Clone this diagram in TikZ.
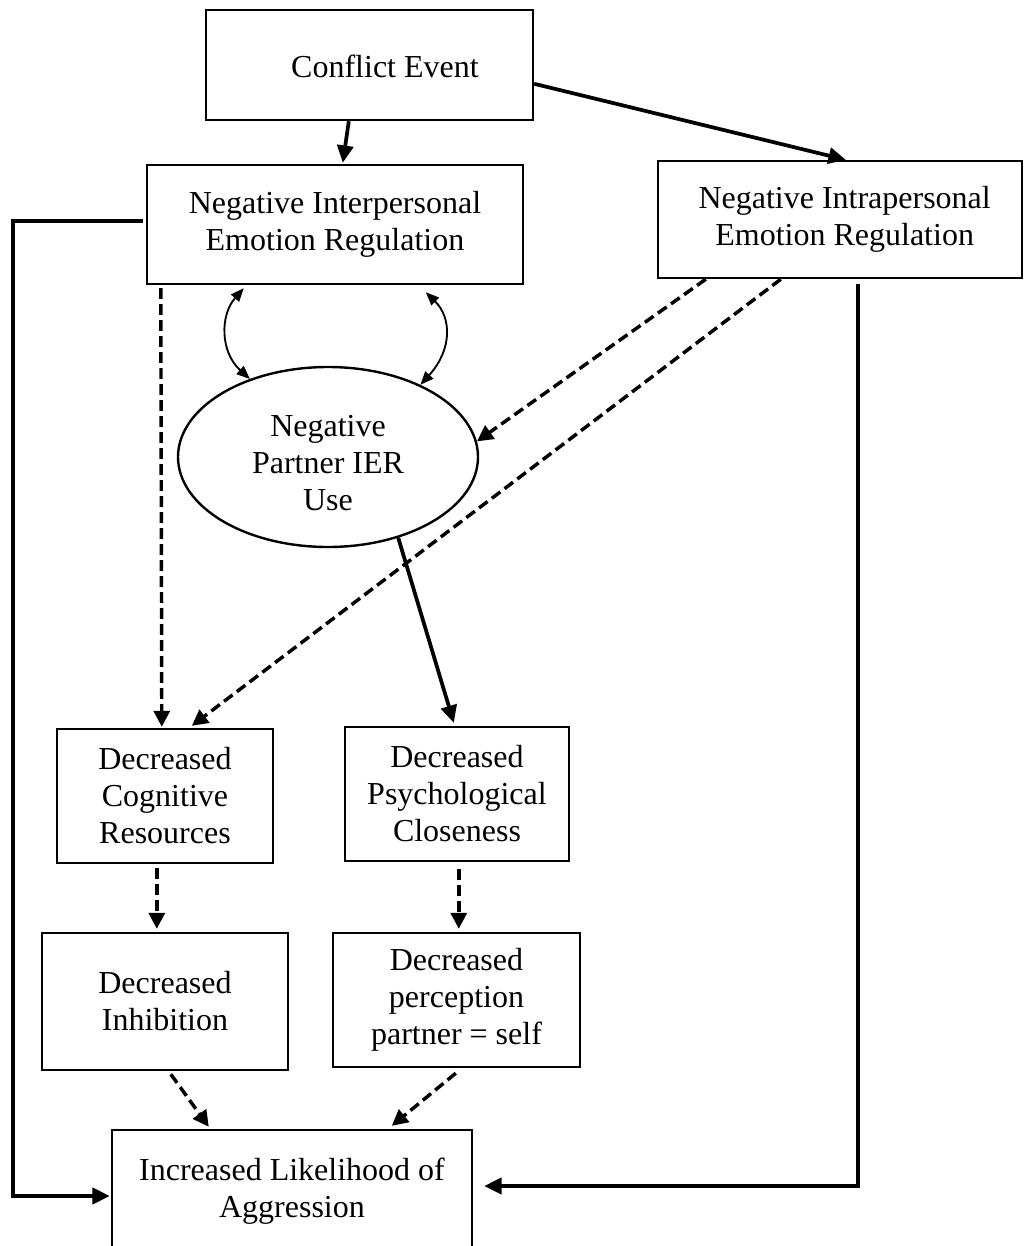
\documentclass[tikz,border=0pt]{standalone}
\usepackage{fontspec}
\setmainfont{Liberation Serif}
\usetikzlibrary{arrows.meta,shapes.geometric,calc}

\begin{document}
\begin{tikzpicture}[x=0.75pt,y=-0.75pt,
  every node/.style={font=\fontsize{24pt}{27.75pt}\selectfont},
  box/.style={draw,line width=1.8pt,rectangle,align=center,inner sep=0pt},
  oval/.style={draw,line width=1.8pt,ellipse,align=center,inner sep=0pt},
  solidarrow/.style={line width=2.8pt,-{Triangle[length=13pt,width=12pt]}},
  dasharrow/.style={line width=2.6pt,dash pattern=on 8pt off 4pt,-{Triangle[length=12pt,width=12pt]}},
  twoway/.style={line width=1.4pt,{Triangle[length=10pt,width=8pt]}-{Triangle[length=10pt,width=8pt]}}
]
\useasboundingbox (0,0) rectangle (1025,1246);

% boxes
\node[box,minimum width=245.25pt,minimum height=82.5pt] (conflict) at (369.5,65) {};
\node (conflictText) at (385,66) {Conflict Event};
\node[box,minimum width=282pt,minimum height=89.25pt] (ni) at (335,224.5)
  {Negative Interpersonal\\Emotion Regulation};
\node[box,minimum width=273pt,minimum height=87.75pt] (nr) at (840,219.5)
  {\hspace*{7pt}Negative Intrapersonal\\\hspace*{7pt}Emotion Regulation};
\node[oval,minimum width=225pt,minimum height=135pt] (partner) at (328,457) {};
\node (partnerText) at (328,463) [align=center] {Negative\\Partner IER\\Use};
\node[box,minimum width=162pt,minimum height=100.5pt] (cog) at (165,796)
  {Decreased\\Cognitive\\Resources};
\node[box,minimum width=168pt,minimum height=100.5pt] (psy) at (457,794)
  {Decreased\\Psychological\\Closeness};
\node[box,minimum width=184.5pt,minimum height=102.75pt] (inh) at (165,1001.5)
  {Decreased\\Inhibition};
\node[box,minimum width=185.25pt,minimum height=100.5pt] (per) at (456.5,1000)
  {Decreased\\perception\\partner = self};
\node[box,minimum width=270pt,minimum height=91.5pt] (inc) at (292,1191)
  {Increased Likelihood of\\Aggression};

% solid connectors
\draw[solidarrow] ($(conflict.south west)+(144,0)$) -- ($(ni.north west)+(197,-1)$);
\draw[solidarrow] ($(conflict.north east)+(0,75)$) -- ($(nr.north west)+(189,0)$);
\draw[solidarrow] ($(ni.north west)+(-3,57)$) -- ++(-130,0) |- ($(inc.west)+(-1,5)$);
\draw[solidarrow] ($(nr.south west)+(201,5)$) |- ($(inc.east)+(11,-5)$);
\draw[solidarrow] (partner.-49) -- ($(psy.north west)+(110,-3)$);

% two-way links between the interpersonal box and the partner oval
\draw[twoway] ($(ni.south west)+(98,3)$) .. controls (220,315) and (220,352) .. (partner.135);
\draw[twoway] ($(ni.south west)+(280,7)$) .. controls (452,318) and (452,350) .. (partner.38);

% dashed connectors
\draw[dasharrow] ($(ni.south west)+(15,3)$) -- ($(cog.north west)+(106,-1)$);
\draw[dasharrow] ($(nr.south west)+(49,0)$) -- (partner.6);
\draw[dasharrow] ($(nr.south west)+(124,0)$) -- ($(cog.north west)+(136,-2)$);
\draw[dasharrow] ($(cog.south west)+(101,4)$) -- ($(inh.north west)+(116,-3)$);
\draw[dasharrow] ($(psy.south west)+(115,7)$) -- ($(per.north west)+(127,-3)$);
\draw[dasharrow] ($(inh.south west)+(130,3)$) -- ($(inc.north west)+(98,-2)$);
\draw[dasharrow] ($(per.south west)+(124,5)$) -- ($(inc.north west)+(281,-3)$);
\end{tikzpicture}
\end{document}
